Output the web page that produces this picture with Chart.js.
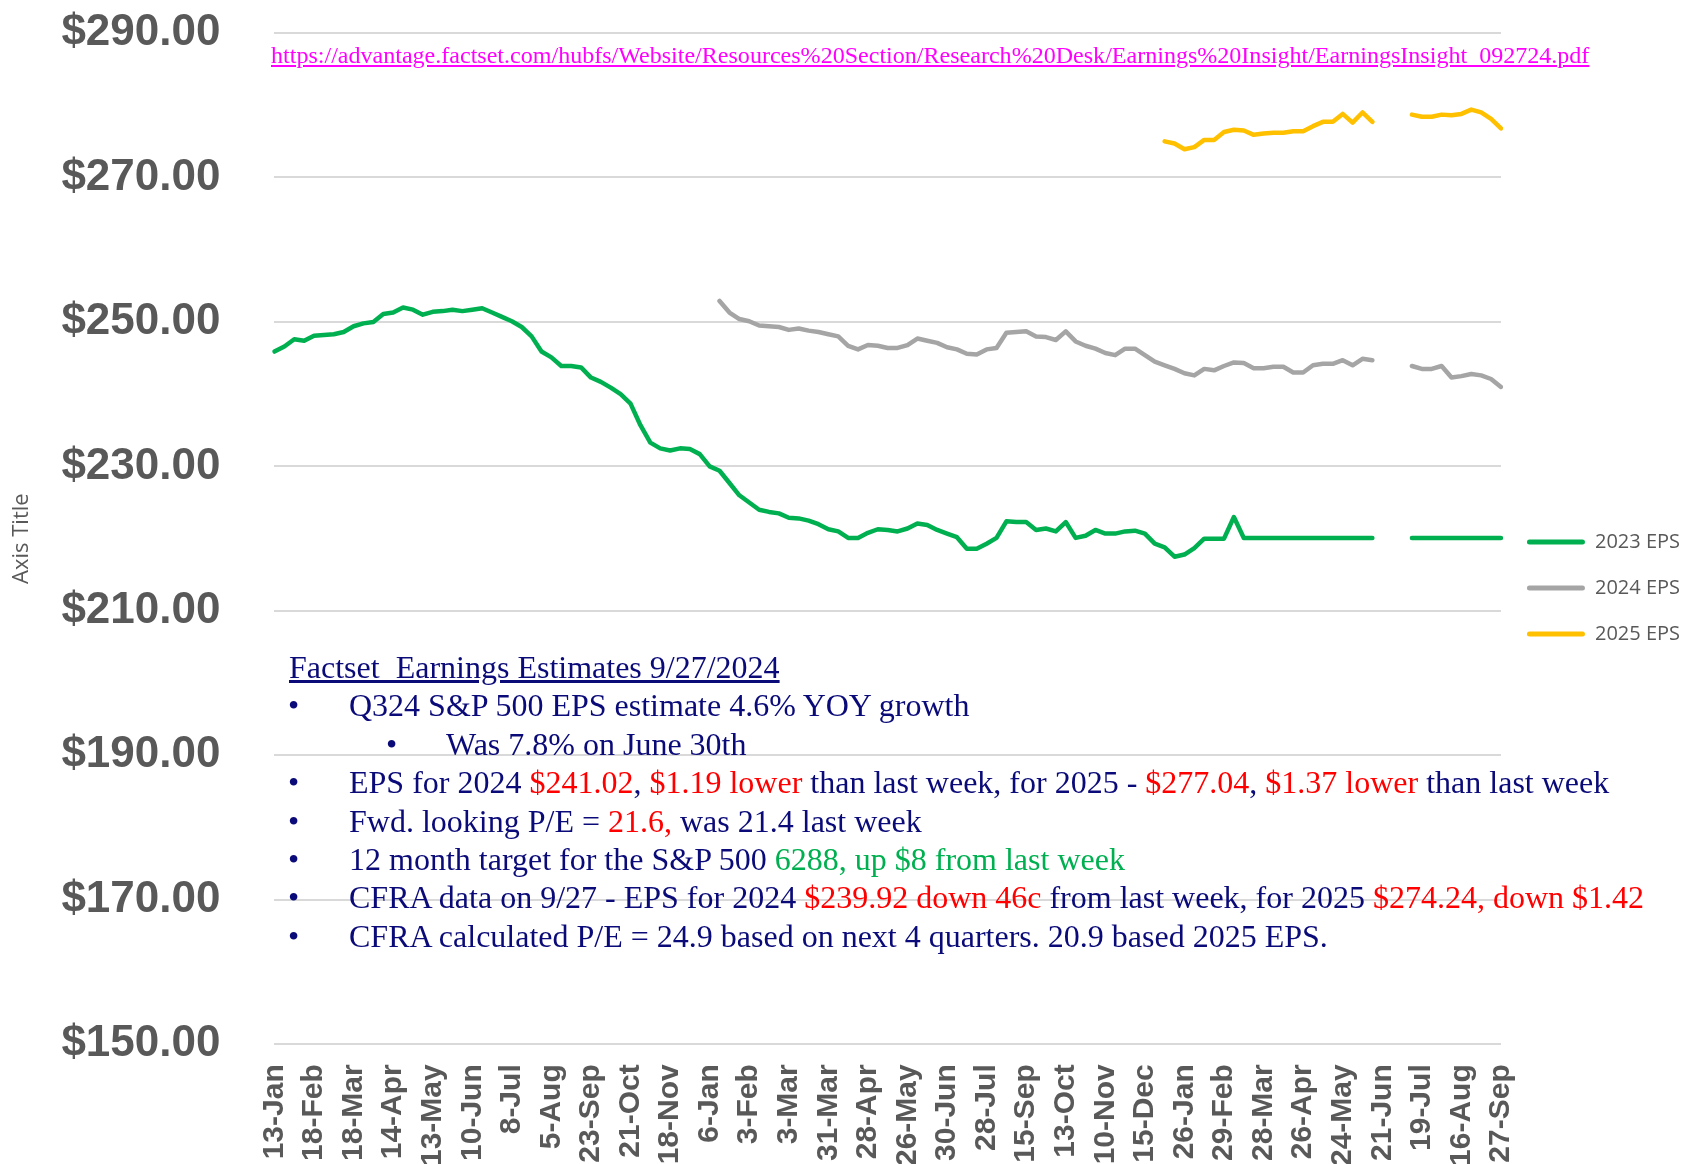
<!DOCTYPE html>
<html><head><meta charset="utf-8">
<script src="https://cdn.jsdelivr.net/npm/chart.js@4.4.0/dist/chart.umd.min.js"></script>
<style>
html,body{margin:0;padding:0;background:#fff;}
#wrap{position:relative;width:1685px;height:1164px;overflow:hidden;}
canvas{position:absolute;left:0;top:0;}
.t{position:absolute;font-family:"Liberation Serif","Times New Roman",serif;color:#0a0a78;white-space:pre;font-size:32px;line-height:38.4px;}
.r{color:#ff0000}.g{color:#00b050}
#url{position:absolute;left:271px;font-family:"Liberation Serif","Times New Roman",serif;color:#ff00ff;text-decoration:underline;white-space:pre;line-height:1;}
</style></head>
<body><div id="wrap"><canvas id="c" width="1685" height="1164"></canvas>
<div id="url">https://advantage.factset.com/hubfs/Website/Resources%20Section/Research%20Desk/Earnings%20Insight/EarningsInsight_092724.pdf</div>
<div class="t" style="left:289px;top:648px;text-decoration:underline">Factset  Earnings Estimates 9/27/2024</div>
<div class="t" style="left:288px;top:686.4px">•</div>
<div class="t" style="left:349px;top:686.4px">Q324 S&amp;P 500 EPS estimate 4.6% YOY growth</div>
<div class="t" style="left:386px;top:724.8px">•</div>
<div class="t" style="left:446px;top:724.8px">Was 7.8% on June 30th</div>
<div class="t" style="left:288px;top:763.2px">•</div>
<div class="t" style="left:349px;top:763.2px">EPS for 2024 <span class="r">$241.02</span>, <span class="r">$1.19 lower</span> than last week, for 2025 - <span class="r">$277.04</span>, <span class="r">$1.37 lower</span> than last week</div>
<div class="t" style="left:288px;top:801.6px">•</div>
<div class="t" style="left:349px;top:801.6px">Fwd. looking P/E = <span class="r">21.6,</span> was 21.4 last week</div>
<div class="t" style="left:288px;top:840px">•</div>
<div class="t" style="left:349px;top:840px">12 month target for the S&amp;P 500 <span class="g">6288, up $8 from last week</span></div>
<div class="t" style="left:288px;top:878.4px">•</div>
<div class="t" style="left:349px;top:878.4px">CFRA data on 9/27 - EPS for 2024 <span class="r">$239.92 down 46c</span> from last week, for 2025 <span class="r">$274.24, down $1.42</span></div>
<div class="t" style="left:288px;top:916.8px">•</div>
<div class="t" style="left:349px;top:916.8px">CFRA calculated P/E = 24.9 based on next 4 quarters. 20.9 based 2025 EPS.</div>
</div>
<script>
const tickLabels = ['13-Jan','18-Feb','18-Mar','14-Apr','13-May','10-Jun','8-Jul','5-Aug','23-Sep','21-Oct','18-Nov','6-Jan','3-Feb','3-Mar','31-Mar','28-Apr','26-May','30-Jun','28-Jul','15-Sep','13-Oct','10-Nov','15-Dec','26-Jan','29-Feb','28-Mar','26-Apr','24-May','21-Jun','19-Jul','16-Aug','27-Sep'];
const LABEL_STEP = 4;
const seriesNames = ['2023 EPS','2024 EPS','2025 EPS'];
const seriesColors = ['#00b050','#a5a5a5','#ffc000'];
const yTicks = {min:150, max:290, step:20};

const eps2023 = [
245.9,246.6,247.6,247.4,248.1,248.2,248.3,248.6,249.4,249.8,
250.0,251.1,251.3,252.0,251.7,251.0,251.4,251.5,251.7,251.5,
251.7,251.9,251.3,250.7,250.1,249.3,248.0,245.9,245.1,243.9,
243.9,243.7,242.3,241.7,240.9,240.0,238.7,235.7,233.3,232.5,
232.2,232.5,232.4,231.7,230.0,229.4,227.7,226.0,225.0,224.0,
223.7,223.5,222.9,222.8,222.5,222.0,221.3,221.0,220.1,220.1,
220.8,221.3,221.2,221.0,221.4,222.1,221.9,221.2,220.7,220.2,
218.6,218.6,219.3,220.1,222.4,222.3,222.3,221.2,221.4,221.0,
222.3,220.1,220.4,221.2,220.7,220.7,221.0,221.1,220.7,219.3,
218.8,217.5,217.8,218.7,220.0,220.0,220.0,223.0,220.1,220.1,
220.1,220.1,220.1,220.1,220.1,220.1,220.1,220.1,220.1,220.1,
220.1,220.1,null,null,null,220.1,220.1,220.1,220.1,220.1,
220.1,220.1,220.1,220.1,220.1
];
const eps2024 = [
null,null,null,null,null,null,null,null,null,null,
null,null,null,null,null,null,null,null,null,null,
null,null,null,null,null,null,null,null,null,null,
null,null,null,null,null,null,null,null,null,null,
null,null,null,null,null,252.9,251.3,250.4,250.1,249.5,
249.4,249.3,248.9,249.1,248.8,248.6,248.3,248.0,246.7,246.2,
246.8,246.7,246.4,246.4,246.8,247.7,247.4,247.1,246.5,246.2,
245.6,245.5,246.2,246.4,248.5,248.6,248.7,248.0,247.9,247.5,
248.7,247.3,246.7,246.3,245.7,245.4,246.3,246.3,245.4,244.5,
244.0,243.5,242.9,242.6,243.5,243.3,243.9,244.4,244.3,243.6,
243.6,243.8,243.8,243.0,243.0,244.0,244.2,244.2,244.7,244.0,
244.9,244.7,null,null,null,243.9,243.5,243.5,243.9,242.3,
242.5,242.8,242.6,242.1,241.0
];
const eps2025 = [
null,null,null,null,null,null,null,null,null,null,
null,null,null,null,null,null,null,null,null,null,
null,null,null,null,null,null,null,null,null,null,
null,null,null,null,null,null,null,null,null,null,
null,null,null,null,null,null,null,null,null,null,
null,null,null,null,null,null,null,null,null,null,
null,null,null,null,null,null,null,null,null,null,
null,null,null,null,null,null,null,null,null,null,
null,null,null,null,null,null,null,null,null,null,
275.0,274.7,273.9,274.2,275.2,275.2,276.3,276.6,276.5,275.9,
276.1,276.2,276.2,276.4,276.4,277.1,277.7,277.7,278.8,277.6,
279.0,277.7,null,null,null,278.7,278.4,278.4,278.7,278.6,
278.8,279.4,279.0,278.1,276.8
];

const categories = eps2023.map((_, i) => (i % LABEL_STEP === 0 ? (tickLabels[i / LABEL_STEP] || '') : ''));

// fit URL text width to the reference span
(function(){
  const el = document.getElementById('url');
  const cv = document.createElement('canvas').getContext('2d');
  cv.font = '100px "Liberation Serif"';
  const w = cv.measureText(el.textContent).width;
  const f = 100 * 1319 / w;
  el.style.fontSize = f + 'px';
  el.style.top = (63 - 0.8375 * f) + 'px';
})();

const allSeries = [eps2023, eps2024, eps2025];
new Chart(document.getElementById('c'), {
  type: 'line',
  data: {
    labels: categories,
    datasets: allSeries.map((d, k) => ({
      label: seriesNames[k],
      data: d,
      borderColor: seriesColors[k],
      backgroundColor: seriesColors[k],
      borderWidth: 4.5,
      pointRadius: 0,
      pointHoverRadius: 0,
      tension: 0,
      spanGaps: false,
      fill: false,
      borderCapStyle: 'round',
      borderJoinStyle: 'round'
    }))
  },
  options: {
    responsive: false,
    devicePixelRatio: 1,
    animation: false,
    layout: {padding: {top: 12, right: -5, bottom: 0, left: 0}},
    plugins: {
      tooltip: {enabled: false},
      legend: {
        position: 'right',
        align: 'center',
        labels: {
          boxWidth: 58, boxHeight: 5, padding: 26,
          color: '#595959',
          font: {family: '"Open Sans"', size: 20},
          useBorderRadius: true, borderRadius: 2.5,
          generateLabels(chart) {
            const items = Chart.defaults.plugins.legend.labels.generateLabels(chart);
            items.forEach(it => { it.fillStyle = it.strokeStyle; it.lineWidth = 0; });
            return items;
          }
        }
      }
    },
    scales: {
      x: {
        grid: {display: false, drawTicks: false},
        border: {display: false},
        ticks: {
          autoSkip: false, minRotation: 90, maxRotation: 90, padding: 20,
          color: '#595959',
          font: {family: '"Liberation Sans", Arial, sans-serif', size: 30, weight: 'bold'},
          callback: (v, i) => categories[i]
        },
        afterFit(s) { s.height -= s.options.ticks.padding + 2; }
      },
      y: {
        min: yTicks.min, max: yTicks.max,
        grid: {color: '#d9d9d9', lineWidth: 2, drawTicks: false},
        border: {display: false},
        ticks: {
          stepSize: yTicks.step, padding: 54,
          color: '#595959',
          font: {family: '"Liberation Sans", Arial, sans-serif', size: 44, weight: 'bold', lineHeight: 1.5},
          callback: v => '$' + Number(v).toFixed(2)
        },
        title: {
          display: true, text: 'Axis Title', color: '#595959',
          font: {family: '"Open Sans"', size: 22},
          padding: {top: 9, bottom: 26}
        },
        afterFit(s) {
          const p = s.options.ticks.padding;
          s.width -= p;
          s.paddingTop -= p;
          s.paddingBottom -= p;
        }
      }
    }
  }
});
</script>
</body></html>
